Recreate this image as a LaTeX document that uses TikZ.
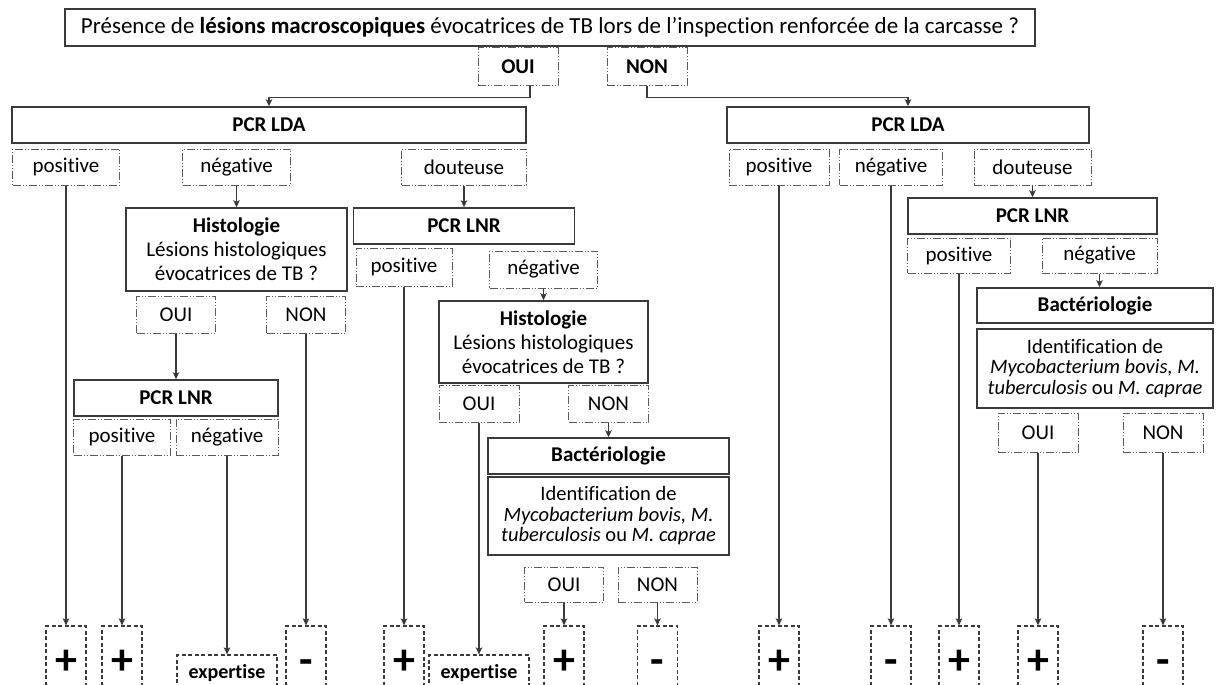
\documentclass[tikz,border=0pt]{standalone}
\usepackage{fontspec}
\usetikzlibrary{arrows.meta}
\setmainfont{Carlito}[Ligatures=NoCommon]
\definecolor{linegray}{HTML}{3A3A3A}
\definecolor{dotgray}{HTML}{5A5A5A}
\begin{document}
\begin{tikzpicture}[x=1pt,y=-1pt,>={Stealth[length=7pt,width=6.5pt,inset=1.5pt]},
  box/.style = {draw=linegray, line width=1.5pt, align=center, inner sep=1pt, minimum height=36, font=\fontsize{21}{24}\selectfont},
  choice/.style = {draw=dotgray, line width=1pt, dash pattern=on 8pt off 2pt on 1pt off 2pt on 1pt off 2pt, minimum height=36, inner sep=1pt, font=\fontsize{21}{24}\selectfont},
  result/.style = {draw=linegray, line width=1.2pt, dash pattern=on 4pt off 2.5pt, minimum width=40, minimum height=66, inner sep=0pt, font=\fontsize{44}{44}\bfseries, text height=33pt, text depth=3pt},
  expbox/.style = {draw=linegray, line width=1.2pt, dash pattern=on 4pt off 2.5pt, minimum width=100, minimum height=36, font=\fontsize{20}{22}\bfseries},
  arr/.style = {->, draw=linegray, line width=1.4pt}]
\useasboundingbox (0,0) rectangle (1216,685);
\clip (0,0) rectangle (1216,685);
% question
\node (q) at (550,27.5)[box, minimum width=970, minimum height=37, font=\fontsize{23}{26}\selectfont] {Présence de \textbf{lésions macroscopiques} évocatrices de TB lors de l’inspection renforcée de la carcasse ?};
\node (ouiA) at (518,67)[choice, minimum width=80, minimum height=38] {\textbf{OUI}};
\node (nonA) at (647,67)[choice, minimum width=80, minimum height=38] {\textbf{NON}};
% left branch
\node (ldaL) at (269,125)[box, minimum width=514] {\textbf{PCR LDA}};
\node (posL) at (66,167)[choice, minimum width=107] {positive};
\node (negL) at (236.5,167)[choice, minimum width=108] {négative};
\node (doutL) at (464,167)[choice, minimum width=125] {douteuse};
\node (histL) at (236.5,249.5)[box, minimum width=221, minimum height=83] {\textbf{Histologie}\\Lésions histologiques\\évocatrices de TB ?};
\node (ouiHL) at (176,314.5)[choice, minimum width=79, minimum height=37] {OUI};
\node (nonHL) at (306,314.5)[choice, minimum width=79, minimum height=37] {NON};
\node (lnrL) at (176,398)[box, minimum width=204] {\textbf{PCR LNR}};
\node (posL2) at (122,437)[choice, minimum width=97] {positive};
\node (negL2) at (227,437)[choice, minimum width=102] {négative};
% douteuse branch
\node (lnrM) at (464,226)[box, minimum width=221] {\textbf{PCR LNR}};
\node (posM) at (404,267)[choice, minimum width=96, minimum height=38] {positive};
\node (negM) at (543.5,269.5)[choice, minimum width=108, minimum height=37] {négative};
\node (histM) at (543.5,342)[box, minimum width=209, minimum height=82] {\textbf{Histologie}\\Lésions histologiques\\évocatrices de TB ?};
\node (ouiHM) at (479,403.5)[choice, minimum width=80, minimum height=37] {OUI};
\node (nonHM) at (608.5,403.5)[choice, minimum width=80, minimum height=37] {NON};
\node (bactM) at (608.5,456)[box, minimum width=241] {\textbf{Bactériologie}};
\node (identM) at (608.5,516)[box, minimum width=241, minimum height=78, font=\fontsize{20.5}{20.5}\selectfont] {Identification de\\\textit{Mycobacterium bovis, M.}\\\textit{tuberculosis} ou \textit{M. caprae}};
\node (ouiBM) at (564,584.5)[choice, minimum width=79, minimum height=35] {OUI};
\node (nonBM) at (657.5,584.5)[choice, minimum width=79, minimum height=35] {NON};
% right branch
\node (ldaR) at (908,125)[box, minimum width=362] {\textbf{PCR LDA}};
\node (posR) at (779,167)[choice, minimum width=100] {positive};
\node (negR) at (891,167)[choice, minimum width=103] {négative};
\node (doutR) at (1032.5,167)[choice, minimum width=117] {douteuse};
\node (lnrR) at (1032.5,216)[box, minimum width=249] {\textbf{PCR LNR}};
\node (posR2) at (959,255.5)[choice, minimum width=103, minimum height=35] {positive};
\node (negR2) at (1099.5,255.5)[choice, minimum width=115, minimum height=35] {négative};
\node (bactR) at (1095,305.5)[box, minimum width=236, minimum height=35] {\textbf{Bactériologie}};
\node (identR) at (1095,368.5)[box, minimum width=236, minimum height=79, font=\fontsize{20.5}{20.5}\selectfont] {Identification de\\\textit{Mycobacterium bovis, M.}\\\textit{tuberculosis} ou \textit{M. caprae}};
\node (ouiBR) at (1038,432.5)[choice, minimum width=80, minimum height=39] {OUI};
\node (nonBR) at (1163,432.5)[choice, minimum width=80, minimum height=39] {NON};
% results
\node (t1) at (66,659)[result] {+};
\node (t2) at (122,659)[result] {+};
\node (expL) at (227,673)[expbox] {expertise};
\node (t3) at (306,659)[result] {-};
\node (t4) at (404,659)[result] {+};
\node (expM) at (479,673)[expbox] {expertise};
\node (t5) at (564,659)[result] {+};
\node (t6) at (657.5,659)[result] {-};
\node (t7) at (779,659)[result] {+};
\node (t8) at (891,659)[result] {-};
\node (t9) at (959,659)[result] {+};
\node (t10) at (1038,659)[result] {+};
\node (t11) at (1163,659)[result] {-};
% connectors
\draw[arr] ([xshift=12pt]ouiA.south) -- ++(0,11) -| (ldaL.north);
\draw[arr] (nonA.south) -- ++(0,11) -| (ldaR.north);
\draw[arr] (posL.south) -- (t1.north);
\draw[arr] (negL.south) -- (histL.north);
\draw[arr] (doutL.south) -- (lnrM.north);
\draw[arr] (ouiHL.south) -- (lnrL.north);
\draw[arr] (nonHL.south) -- (t3.north);
\draw[arr] (posL2.south) -- (t2.north);
\draw[arr] (negL2.south) -- (expL.north);
\draw[arr] (posM.south) -- (t4.north);
\draw[arr] (negM.south) -- (histM.north);
\draw[arr] (ouiHM.south) -- (expM.north);
\draw[arr] (nonHM.south) -- (bactM.north);
\draw[arr] (ouiBM.south) -- (t5.north);
\draw[arr] (nonBM.south) -- (t6.north);
\draw[arr] (posR.south) -- (t7.north);
\draw[arr] (negR.south) -- (t8.north);
\draw[arr] (doutR.south) -- (lnrR.north);
\draw[arr] (posR2.south) -- (t9.north);
\draw[arr] (negR2.south) -- (negR2.south |- bactR.north);
\draw[arr] (ouiBR.south) -- (t10.north);
\draw[arr] (nonBR.south) -- (t11.north);
\end{tikzpicture}
\end{document}
